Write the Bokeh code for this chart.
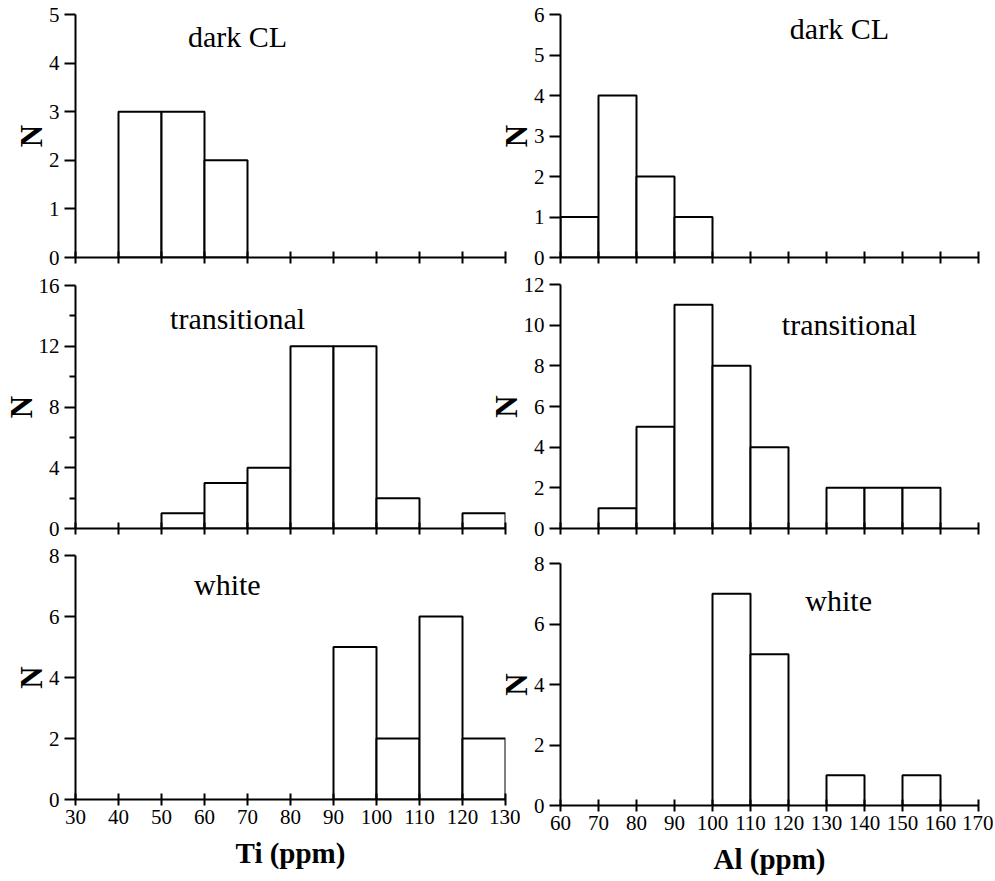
from bokeh.plotting import figure
from bokeh.layouts import column, row
from bokeh.models import Range1d, FixedTicker, Label, CustomLabelingPolicy, ColumnDataSource
from bokeh.embed import file_html
from bokeh.resources import INLINE

# ---------------- data ----------------
ti_edges = [30, 40, 50, 60, 70, 80, 90, 100, 110, 120, 130]
ti_dark = [0, 3, 3, 2, 0, 0, 0, 0, 0, 0]
ti_trans = [0, 0, 1, 3, 4, 12, 12, 2, 0, 1]
ti_white = [0, 0, 0, 0, 0, 0, 5, 2, 6, 2]

al_edges = [60, 70, 80, 90, 100, 110, 120, 130, 140, 150, 160, 170]
al_dark = [1, 4, 2, 1, 0, 0, 0, 0, 0, 0, 0]
al_trans = [0, 1, 5, 11, 8, 4, 0, 2, 2, 2, 0]
al_white = [0, 0, 0, 0, 7, 5, 0, 1, 0, 1, 0]

titles = ["dark CL", "transitional", "white"]
x_labels = ["Ti (ppm)", "Al (ppm)"]
y_label = "N"

ti_yticks = [[0, 1, 2, 3, 4, 5], [0, 4, 8, 12, 16], [0, 2, 4, 6, 8]]
ti_yminor = [[], [2, 6, 10, 14], []]
al_yticks = [[0, 1, 2, 3, 4, 5, 6], [0, 2, 4, 6, 8, 10, 12], [0, 2, 4, 6, 8]]
al_yminor = [[], [], []]

FONT = "Liberation Serif"


def panel(edges, counts, yticks, yminor, title, tpos, fw, fh, borders, xlabel=None):
    top_b, right_b, bottom_b, left_b = borders
    p = figure(frame_width=fw, frame_height=fh,
               x_range=Range1d(edges[0], edges[-1]),
               y_range=Range1d(0, yticks[-1]),
               output_backend="svg", toolbar_location=None,
               min_border_top=top_b, min_border_right=right_b,
               min_border_bottom=bottom_b, min_border_left=left_b,
               background_fill_alpha=0, border_fill_alpha=0)
    p.outline_line_color = None
    p.grid.visible = False

    lefts = [edges[i] for i, c in enumerate(counts) if c > 0]
    rights = [edges[i + 1] for i, c in enumerate(counts) if c > 0]
    tops = [c for c in counts if c > 0]
    src = ColumnDataSource(dict(left=lefts, right=rights, top=tops, bottom=[0] * len(tops)))
    p.quad(left="left", right="right", top="top", bottom="bottom", source=src,
           fill_color="white", line_color="black", line_width=2)

    xa = p.xaxis[0]
    xa.ticker = FixedTicker(ticks=edges, minor_ticks=[])
    xa.axis_line_width = 2
    xa.axis_line_color = "black"
    xa.major_tick_line_width = 2
    xa.major_tick_line_color = "black"
    xa.major_tick_in = 6
    xa.major_tick_out = 6
    xa.minor_tick_line_color = None
    xa.major_label_text_font = FONT
    xa.major_label_text_font_size = "21px"
    xa.major_label_text_color = "black"
    xa.major_label_standoff = 4
    if xlabel is None:
        xa.major_label_policy = CustomLabelingPolicy(code="""
            const all = []
            for (const i of indices) all.push(i)
            for (const i of all) indices.unset(i)
            return indices
        """)
        xa.major_label_text_font_size = "1px"
        xa.major_label_standoff = 0
    else:
        xa.axis_label = xlabel
        xa.axis_label_text_font = FONT
        xa.axis_label_text_font_style = "bold"
        xa.axis_label_text_font_size = "29px"
        xa.axis_label_text_color = "black"
        xa.axis_label_standoff = 10

    ya = p.yaxis[0]
    ya.ticker = FixedTicker(ticks=yticks, minor_ticks=yminor)
    ya.axis_line_width = 2
    ya.axis_line_color = "black"
    ya.major_tick_line_width = 2
    ya.major_tick_line_color = "black"
    ya.major_tick_in = 0
    ya.major_tick_out = 11
    ya.minor_tick_line_width = 2
    ya.minor_tick_line_color = "black"
    ya.minor_tick_in = 0
    ya.minor_tick_out = 6
    ya.major_label_text_font = FONT
    ya.major_label_text_font_size = "21px"
    ya.major_label_text_color = "black"
    ya.major_label_standoff = 5
    ya.axis_label = y_label
    ya.axis_label_text_font = FONT
    ya.axis_label_text_font_style = "bold"
    ya.axis_label_text_font_size = "31px"
    ya.axis_label_text_color = "black"
    ya.axis_label_standoff = -3

    p.add_layout(Label(x=tpos[0], y=tpos[1], text=title, text_font=FONT,
                       text_font_size="30px", text_color="black",
                       text_align="center", text_baseline="middle"))
    return p


L1 = panel(ti_edges, ti_dark, ti_yticks[0], ti_yminor[0], titles[0], (67.7, 4.55),
           430, 243, (14, 15, 14, 75))
L2 = panel(ti_edges, ti_trans, ti_yticks[1], ti_yminor[1], titles[1], (67.7, 13.8),
           430, 243, (14, 15, 13, 75))
L3 = panel(ti_edges, ti_white, ti_yticks[2], ti_yminor[2], titles[2], (65.3, 7.05),
           430, 244, (14, 15, 80, 75), xlabel=x_labels[0])

R1 = panel(al_edges, al_dark, al_yticks[0], al_yminor[0], titles[0], (133.4, 5.65),
           418, 243, (14, 15, 13, 75))
R2 = panel(al_edges, al_trans, al_yticks[1], al_yminor[1], titles[1], (136.0, 10.03),
           418, 244, (14, 15, 17, 75))
R3 = panel(al_edges, al_white, al_yticks[2], al_yminor[2], titles[2], (133.2, 6.78),
           418, 242, (18, 15, 74, 75), xlabel=x_labels[1])

left_col = column(L1, L2, L3, spacing=0)
right_col = column(R1, R2, R3, spacing=0, margin=(0, 0, 0, -35))
layout = row(left_col, right_col, spacing=0)

open("out.html", "w").write(file_html(layout, INLINE))
